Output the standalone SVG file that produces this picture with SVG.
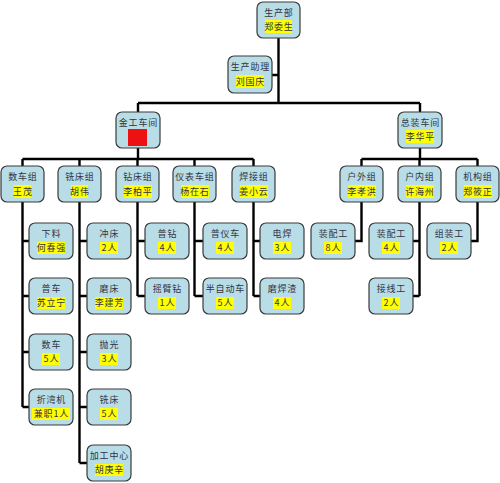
<svg xmlns="http://www.w3.org/2000/svg" width="500" height="483" viewBox="0 0 500 483">
<style>
.box{fill:#b8dde7;stroke:#3a3a3a;stroke-width:1.2}
.hl{fill:#ffff00}
.red{fill:#ee1111}
text{font-family:"Noto Sans CJK SC","Noto Sans",sans-serif;font-size:9px;fill:#333344;text-anchor:middle;letter-spacing:0.8px}
.ln{fill:none;stroke:#000;stroke-width:2.4}
</style>
<rect width="500" height="483" fill="#fff"/>
<g id="connectors" class="ln">
<path d="M278.5,38V103M272,75H278.5"/>
<path d="M138,103H420M138,103V112M420,103V112"/>
<path d="M138,148V159M22.5,159H253.5M22.5,159V166M79.5,159V166M137.5,159V166M194.5,159V166M253.5,159V166"/>
<path d="M420,148V159M361.5,159H477.5M361.5,159V166M419.5,159V166M477.5,159V166"/>
<path d="M22.5,202V407M22.5,241H29M22.5,296H29M22.5,352H29M22.5,407H29"/>
<path d="M79.5,202V463M79.5,241H87M79.5,296H87M79.5,352H87M79.5,407H87M79.5,463H87"/>
<path d="M137.5,202V296M137.5,241H145M137.5,296H145"/>
<path d="M194.5,202V296M194.5,241H203M194.5,296H203"/>
<path d="M253.5,202V296M253.5,241H260M253.5,296H260"/>
<path d="M361.5,202V241H355"/>
<path d="M419.5,202V296M419.5,241H413M419.5,296H413"/>
<path d="M477.5,202V241H471"/>
</g>
<g id="n-scb"><rect class="box" x="257" y="2" width="43" height="36" rx="6"/><rect class="hl" x="265" y="20" width="27" height="13"/><text x="278.9" y="16">生产部</text><text x="278.9" y="30">郑委生</text></g>
<g id="n-sczl"><rect class="box" x="228" y="56" width="44" height="37" rx="6"/><rect class="hl" x="236" y="75" width="28" height="13"/><text x="250.4" y="70">生产助理</text><text x="250.4" y="85">刘国庆</text></g>
<g id="n-jgcj"><rect class="box" x="116" y="112" width="44" height="36" rx="6"/><rect class="red" x="128" y="129" width="19" height="17"/><text x="138.4" y="126">金工车间</text></g>
<g id="n-zzcj"><rect class="box" x="398" y="112" width="44" height="36" rx="6"/><rect class="hl" x="406" y="130" width="28" height="13"/><text x="420.4" y="126">总装车间</text><text x="420.4" y="140">李华平</text></g>
<g id="n-scz"><rect class="box" x="1" y="166" width="43" height="36" rx="6"/><rect class="hl" x="14" y="185" width="17" height="13"/><text x="22.9" y="180">数车组</text><text x="22.9" y="195">王茂</text></g>
<g id="n-xcz"><rect class="box" x="58" y="166" width="43" height="36" rx="6"/><rect class="hl" x="71" y="185" width="17" height="13"/><text x="79.9" y="180">铣床组</text><text x="79.9" y="195">胡伟</text></g>
<g id="n-zcz"><rect class="box" x="116" y="166" width="43" height="36" rx="6"/><rect class="hl" x="124" y="185" width="28" height="13"/><text x="137.9" y="180">钻床组</text><text x="137.9" y="195">李柏平</text></g>
<g id="n-ybcz"><rect class="box" x="173" y="166" width="43" height="36" rx="6"/><rect class="hl" x="181" y="185" width="28" height="13"/><text x="194.9" y="180">仪表车组</text><text x="194.9" y="195">杨在石</text></g>
<g id="n-hjz"><rect class="box" x="232" y="166" width="43" height="36" rx="6"/><rect class="hl" x="240" y="185" width="28" height="13"/><text x="253.9" y="180">焊接组</text><text x="253.9" y="195">姜小云</text></g>
<g id="n-hwz"><rect class="box" x="340" y="166" width="43" height="36" rx="6"/><rect class="hl" x="348" y="185" width="28" height="13"/><text x="361.9" y="180">户外组</text><text x="361.9" y="195">李孝洪</text></g>
<g id="n-hnz"><rect class="box" x="398" y="166" width="43" height="36" rx="6"/><rect class="hl" x="406" y="185" width="28" height="13"/><text x="419.9" y="180">户内组</text><text x="419.9" y="195">许海州</text></g>
<g id="n-jgz"><rect class="box" x="456" y="166" width="43" height="36" rx="6"/><rect class="hl" x="464" y="185" width="28" height="13"/><text x="477.9" y="180">机构组</text><text x="477.9" y="195">郑筱正</text></g>
<g id="n-xl"><rect class="box" x="29" y="223" width="44" height="36" rx="6"/><rect class="hl" x="37" y="242" width="28" height="12"/><text x="51.4" y="237">下料</text><text x="51.4" y="251">何春强</text></g>
<g id="n-pc"><rect class="box" x="29" y="278" width="44" height="36" rx="6"/><rect class="hl" x="37" y="297" width="28" height="12"/><text x="51.4" y="292">普车</text><text x="51.4" y="306">苏立宁</text></g>
<g id="n-sc"><rect class="box" x="29" y="334" width="44" height="36" rx="6"/><rect class="hl" x="42" y="353" width="18" height="12"/><text x="51.4" y="348">数车</text><text x="51.4" y="362">5人</text></g>
<g id="n-zwj"><rect class="box" x="29" y="389" width="44" height="36" rx="6"/><rect class="hl" x="32" y="408" width="38" height="12"/><text x="51.4" y="403">折湾机</text><text x="51.4" y="417">兼职1人</text></g>
<g id="n-cc"><rect class="box" x="87" y="223" width="44" height="36" rx="6"/><rect class="hl" x="100" y="242" width="18" height="12"/><text x="109.4" y="237">冲床</text><text x="109.4" y="251">2人</text></g>
<g id="n-mc"><rect class="box" x="87" y="278" width="44" height="36" rx="6"/><rect class="hl" x="95" y="297" width="28" height="12"/><text x="109.4" y="292">磨床</text><text x="109.4" y="306">李建芳</text></g>
<g id="n-pg"><rect class="box" x="87" y="334" width="44" height="36" rx="6"/><rect class="hl" x="100" y="353" width="18" height="12"/><text x="109.4" y="348">抛光</text><text x="109.4" y="362">3人</text></g>
<g id="n-xc"><rect class="box" x="87" y="389" width="44" height="36" rx="6"/><rect class="hl" x="100" y="408" width="18" height="12"/><text x="109.4" y="403">铣床</text><text x="109.4" y="417">5人</text></g>
<g id="n-jgzx"><rect class="box" x="87" y="445" width="44" height="36" rx="6"/><rect class="hl" x="95" y="464" width="28" height="12"/><text x="109.4" y="459">加工中心</text><text x="109.4" y="473">胡庚辛</text></g>
<g id="n-pz"><rect class="box" x="145" y="223" width="44" height="36" rx="6"/><rect class="hl" x="158" y="242" width="18" height="12"/><text x="167.4" y="237">普钻</text><text x="167.4" y="251">4人</text></g>
<g id="n-ybz"><rect class="box" x="145" y="278" width="44" height="36" rx="6"/><rect class="hl" x="158" y="297" width="18" height="12"/><text x="167.4" y="292">摇臂钻</text><text x="167.4" y="306">1人</text></g>
<g id="n-pyc"><rect class="box" x="203" y="223" width="44" height="36" rx="6"/><rect class="hl" x="216" y="242" width="18" height="12"/><text x="225.4" y="237">普仪车</text><text x="225.4" y="251">4人</text></g>
<g id="n-bzdc"><rect class="box" x="203" y="278" width="44" height="36" rx="6"/><rect class="hl" x="216" y="297" width="18" height="12"/><text x="225.4" y="292">半自动车</text><text x="225.4" y="306">5人</text></g>
<g id="n-dh"><rect class="box" x="260" y="223" width="44" height="36" rx="6"/><rect class="hl" x="273" y="242" width="18" height="12"/><text x="282.4" y="237">电焊</text><text x="282.4" y="251">3人</text></g>
<g id="n-mhz"><rect class="box" x="260" y="278" width="44" height="36" rx="6"/><rect class="hl" x="273" y="297" width="18" height="12"/><text x="282.4" y="292">磨焊渣</text><text x="282.4" y="306">4人</text></g>
<g id="n-zpg1"><rect class="box" x="311" y="223" width="44" height="36" rx="6"/><rect class="hl" x="324" y="242" width="18" height="12"/><text x="333.4" y="237">装配工</text><text x="333.4" y="251">8人</text></g>
<g id="n-zpg2"><rect class="box" x="369" y="223" width="44" height="36" rx="6"/><rect class="hl" x="382" y="242" width="18" height="12"/><text x="391.4" y="237">装配工</text><text x="391.4" y="251">4人</text></g>
<g id="n-jxg"><rect class="box" x="369" y="278" width="44" height="36" rx="6"/><rect class="hl" x="382" y="297" width="18" height="12"/><text x="391.4" y="292">接线工</text><text x="391.4" y="306">2人</text></g>
<g id="n-zzg"><rect class="box" x="427" y="223" width="44" height="36" rx="6"/><rect class="hl" x="440" y="242" width="18" height="12"/><text x="449.4" y="237">组装工</text><text x="449.4" y="251">2人</text></g>
</svg>
